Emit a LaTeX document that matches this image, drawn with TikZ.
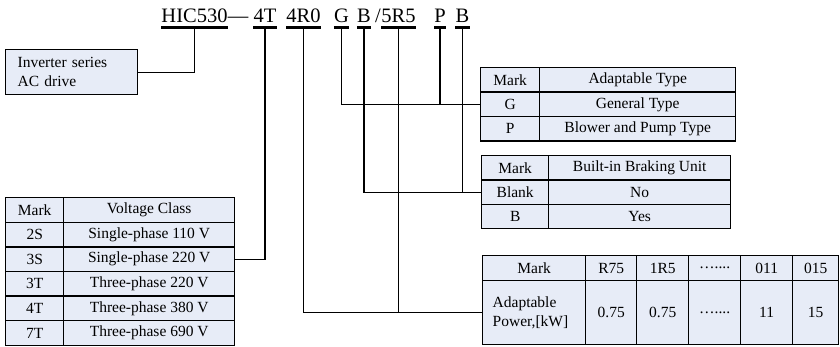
\documentclass[tikz,border=0pt]{standalone}
\usepackage{fontspec}
\setmainfont{Liberation Serif}
\definecolor{cellfill}{RGB}{231,236,247}
\newcommand{\tabfont}{\fontsize{15.5}{19}\selectfont}
\newcommand{\codefont}{\fontsize{20.5}{24}\selectfont}
\newcommand{\skipdots}{…....}
\tikzset{
  cell/.style={draw, fill=cellfill, line width=1.4pt, inner sep=0pt, anchor=north west, font=\tabfont},
  code/.style={inner xsep=0pt, inner ysep=5pt, anchor=base, font=\codefont},
  underline/.style={line width=3pt},
  link/.style={line width=1.3pt},
}
\begin{document}
\begin{tikzpicture}[x=1pt, y=-1pt]
  \useasboundingbox (0,0) rectangle (840,346);
  % model code
  \node[code] (hic) at (194.5,22) {HIC530};
  \node[code] (dash) at (238,22) {—};
  \node[code] (volt) at (265,22) {4T};
  \node[code] (pow) at (303.5,22) {4R0};
  \node[code] (typeG) at (341.5,22) {G};
  \node[code] (brkB) at (364,22) {B};
  \node[code] (slash) at (378,22) {/};
  \node[code] (pow2) at (398.5,22) {5R5};
  \node[code] (typeP) at (440,22) {P};
  \node[code] (brkB2) at (462.5,22) {B};
  \foreach \n in {hic,volt,pow,typeG,brkB,pow2,typeP,brkB2}
    \draw[underline] (\n.south west) -- (\n.south east);
  % series box
  \node[cell, minimum width=132pt, minimum height=45pt, text width=108pt, inner xsep=12pt, align=left] (series) at (5,49) {Inverter series\\AC drive};
  % voltage class
  \foreach \m/\c [count=\i from 0] in {Mark/Voltage Class, 2S/Single-phase 110 V, 3S/Single-phase 220 V, 3T/Three-phase 220 V, 4T/Three-phase 380 V, 7T/Three-phase 690 V}{
    \node[cell, minimum width=58pt, minimum height=24.6pt] (vm\i) at (5,197+24.6*\i) {\m};
    \node[cell, minimum width=171pt, minimum height=24.6pt] (vc\i) at (63,197+24.6*\i) {\c};
  }
  % adaptable type
  \foreach \m/\c [count=\i from 0] in {Mark/Adaptable Type, G/General Type, P/Blower and Pump Type}{
    \node[cell, minimum width=59pt, minimum height=24.4pt] (tm\i) at (480,67+24.4*\i) {\m};
    \node[cell, minimum width=196pt, minimum height=24.4pt] (tc\i) at (539,67+24.4*\i) {\c};
  }
  % braking unit
  \foreach \m/\c [count=\i from 0] in {Mark/Built-in Braking Unit, Blank/No, B/Yes}{
    \node[cell, minimum width=67pt, minimum height=24.3pt] (bm\i) at (481,155+24.3*\i) {\m};
    \node[cell, minimum width=182pt, minimum height=24.3pt] (bc\i) at (548,155+24.3*\i) {\c};
  }
  % power
  \node[cell, minimum width=103pt, minimum height=25pt] (pm0) at (482,255) {Mark};
  \node[cell, minimum width=103pt, minimum height=64pt, text width=83pt, inner xsep=10pt, align=left] (pm1) at (482,280) {Adaptable\\Power,[kW]};
  \foreach \k/\x/\w/\v [count=\j] in {R75/585/51/0.75, 1R5/636/52/0.75, \skipdots/688/52/\skipdots, 011/740/52/11, 015/792/46/15}{
    \node[cell, minimum width=\w pt, minimum height=25pt] (pk\j) at (\x,255) {\k};
    \node[cell, minimum width=\w pt, minimum height=64pt] (pv\j) at (\x,280) {\v};
  }
  % connectors
  \draw[link] (hic.south) |- (series.east);
  \draw[link] (volt.south) |- (vc2.east);
  \draw[link] (pow.south) |- (pm1.west);
  \draw[link] (pow2.south) -- (pow2.south |- pm1.west);
  \draw[link] (typeG.south) |- (tm1.west);
  \draw[link] (typeP.south) -- (typeP.south |- tm1.west);
  \draw[link] (brkB.south) |- (bm1.west);
  \draw[link] (brkB2.south) -- (brkB2.south |- bm1.west);
\end{tikzpicture}
\end{document}
